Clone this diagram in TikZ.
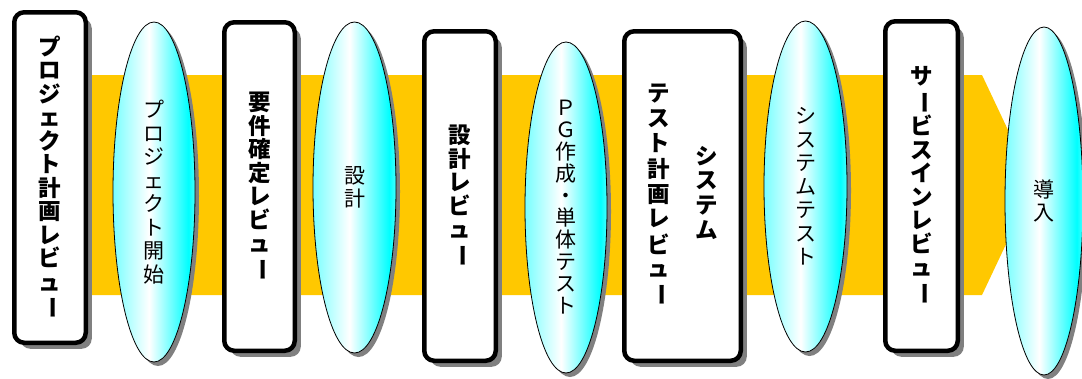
\documentclass[tikz,border=0pt]{standalone}
\usepackage{fontspec}
\usepackage{graphicx}
\setmainfont{Noto Sans CJK JP}
\usetikzlibrary{shapes.geometric,shadows}
\definecolor{arrowc}{RGB}{255,200,0}
\definecolor{lensL}{RGB}{120,255,255}
\definecolor{lensR}{RGB}{70,255,255}
\definecolor{shadowc}{RGB}{128,128,128}
\pgfdeclarehorizontalshading{lens}{100bp}{color(0bp)=(lensL); color(25bp)=(lensL); color(47bp)=(white); color(71bp)=(cyan); color(75bp)=(lensR); color(100bp)=(lensR)}
\newcommand\vbar{\rotatebox[origin=c]{-90}{ー}}
\tikzset{
  review/.style={draw=black, line width=4.5pt, rounded corners=10pt, fill=white,
    drop shadow={shadow xshift=6pt, shadow yshift=-6pt, fill=shadowc, opacity=1},
    align=center, inner sep=0pt,
    font=\bfseries\fontsize{22.5}{23.5}\selectfont},
  phase/.style={ellipse, draw=black, line width=0.8pt, shading=lens,
    drop shadow={shadow xshift=4pt, shadow yshift=-4pt, fill=shadowc, opacity=1},
    align=center, inner sep=0pt,
    font=\fontsize{21}{23.5}\selectfont},
}
\begin{document}
\begin{tikzpicture}[x=1pt,y=-1pt]
\useasboundingbox (0,0) rectangle (1082,378);
\fill[white] (0,0) rectangle (1082,378);
% big process arrow
\fill[arrowc] (60,75) -- (982,75) -- (1034,185) -- (982,295) -- (60,295) -- cycle;
% reviews
\node[review, minimum width=71.5pt, minimum height=330.5pt] (r1) at (50,177.5)
  {プ\\ロ\\ジ\\ェ\\ク\\ト\\計\\画\\レ\\ビ\\ュ\\\vbar};
\node[review, minimum width=70.5pt, minimum height=328.5pt] (r2) at (259.5,186.5)
  {要\\件\\確\\定\\レ\\ビ\\ュ\\\vbar};
\node[review, minimum width=71.5pt, minimum height=329.5pt] (r3) at (460,196)
  {設\\計\\レ\\ビ\\ュ\\\vbar};
\node[review, minimum width=116.5pt, minimum height=329.5pt] (r4) at (682.5,196)
  {\begin{tabular}{@{}c@{\hspace{25pt}}c@{}}
   \begin{tabular}{@{}c@{}}テ\\ス\\ト\\計\\画\\レ\\ビ\\ュ\\\vbar\end{tabular} &
   \begin{tabular}{@{}c@{}}シ\\ス\\テ\\ム\end{tabular}
   \end{tabular}};
\node[review, minimum width=72.5pt, minimum height=329.5pt] (r5) at (921.5,186)
  {サ\\\vbar\\ビ\\ス\\イ\\ン\\レ\\ビ\\ュ\\\vbar};
% phases
\node[phase, minimum width=82pt, minimum height=340pt] (p1) at (154,192)
  {プ\\ロ\\ジ\\ェ\\ク\\ト\\開\\始};
\node[phase, minimum width=83pt, minimum height=331pt] (p2) at (354.5,187.5)
  {設\\計};
\node[phase, minimum width=82pt, minimum height=331pt, font=\fontsize{21}{22}\selectfont] (p3) at (566,207.5)
  {Ｐ\\Ｇ\\作\\成\\・\\単\\体\\テ\\ス\\ト};
\node[phase, minimum width=83pt, minimum height=331pt] (p4) at (805.5,186.5)
  {シ\\ス\\テ\\ム\\テ\\ス\\ト};
\node[phase, minimum width=78pt, minimum height=348pt] (p5) at (1044,201)
  {導\\入};
\end{tikzpicture}
\end{document}
